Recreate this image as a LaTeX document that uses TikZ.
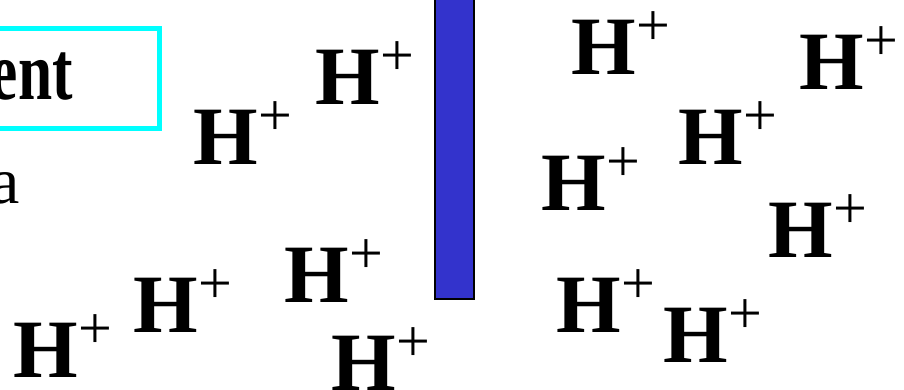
\documentclass[tikz,border=0pt]{standalone}
\usepackage{fontspec}
\setmainfont{Liberation Serif}
\definecolor{membrane}{HTML}{3333CC}
\definecolor{frame}{HTML}{00FFFF}
\newcommand{\hplus}{H\raisebox{29pt}{\fontsize{60}{60}\selectfont\mdseries +}}

\begin{document}
\begin{tikzpicture}[x=1pt,y=-1pt]
\tikzset{ion/.style={font=\fontsize{83}{83}\selectfont\bfseries,inner sep=0pt,anchor=base west}}
\clip (0,0) rectangle (904,390);

% title box, cut at the left edge
\draw[frame,line width=5pt] (-30,28.5) rectangle (159,129);
\node[font=\fontsize{83}{83}\selectfont\bfseries,inner sep=0pt,anchor=base east] (title) at (73,100) {\scalebox{0.74}[1]{ent}};
\node[font=\fontsize{66}{66}\selectfont,inner sep=0pt,anchor=base east] (side) at (20,204) {a};

% membrane
\draw[black,line width=1.5pt,fill=membrane] (435,-5) rectangle (474,299);

% protons on both sides
\foreach \x/\y [count=\i] in {15/377,135/332,286/302,333/390,195/165,317/105,
                              573/75,801/90,680/165,543/211,770/257,558/332,665/362}
  \node[ion] (h\i) at (\x-1.6,\y) {\hplus};
\end{tikzpicture}
\end{document}
